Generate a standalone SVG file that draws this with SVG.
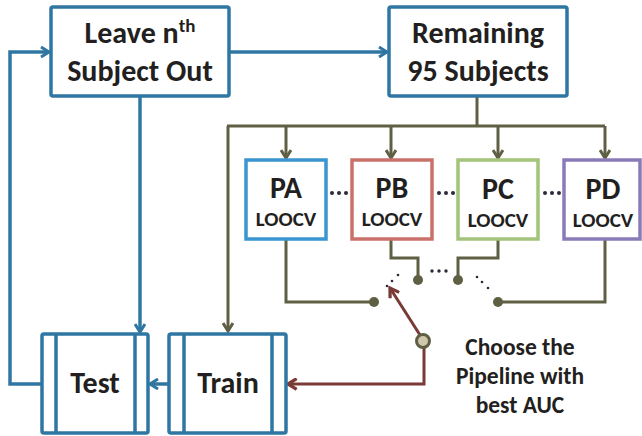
<svg xmlns="http://www.w3.org/2000/svg" width="642" height="436" viewBox="0 0 642 436">
  <defs>
    <style>
      text { font-family: Carlito, Lato, "Open Sans", sans-serif; font-weight: bold; fill: #231f20; text-anchor: middle; }
      .big { font-size: 30px; }
      .pipe { font-size: 30px; }
      .sub { font-size: 21px; }
      .note { font-size: 23.5px; }
      .blue { stroke: #2f77a2; stroke-width: 3.5; fill: none; }
      .olive { stroke: #5f5f44; stroke-width: 3; fill: none; }
      .red { stroke: #7a3a35; stroke-width: 3; fill: none; }
      .box { fill: #fff; stroke: #2f77a2; stroke-width: 3.5; }
      .pbox { fill: #fff; stroke-width: 3.5; }
      .dot { fill: #5f5f44; }
      .tiny { fill: #2a2a3a; }
    </style>
    <marker id="ab" viewBox="0 0 12 12" refX="10" refY="6" markerWidth="12" markerHeight="12" markerUnits="userSpaceOnUse" orient="auto">
      <path d="M2,1 L10,6 L2,11" fill="none" stroke="#2f77a2" stroke-width="3"/>
    </marker>
    <marker id="ao" viewBox="0 0 12 12" refX="10" refY="6" markerWidth="12" markerHeight="12" markerUnits="userSpaceOnUse" orient="auto">
      <path d="M2,1 L10,6 L2,11" fill="none" stroke="#5f5f44" stroke-width="3"/>
    </marker>
    <marker id="ar" viewBox="0 0 12 12" refX="10" refY="6" markerWidth="13" markerHeight="13" markerUnits="userSpaceOnUse" orient="auto">
      <path d="M2,1 L10,6 L2,11" fill="none" stroke="#7a3a35" stroke-width="3"/>
    </marker>
  </defs>

  <g id="connectors">
    <!-- blue flow -->
    <path class="blue" d="M229,52 H387" marker-end="url(#ab)"/>
    <path class="blue" d="M42,384 H10 V52 H49" marker-end="url(#ab)"/>
    <path class="blue" d="M140,96 V332" marker-end="url(#ab)"/>
    <path class="blue" d="M169,384 H150" marker-end="url(#ab)"/>
    <!-- olive distribution -->
    <path class="olive" d="M477,96 V126"/>
    <path class="olive" d="M227,126 H605"/>
    <path class="olive" d="M228,126 V331" marker-end="url(#ao)"/>
    <path class="olive" d="M286,126 V158" marker-end="url(#ao)"/>
    <path class="olive" d="M391,126 V158" marker-end="url(#ao)"/>
    <path class="olive" d="M498,126 V158" marker-end="url(#ao)"/>
    <path class="olive" d="M605,126 V158" marker-end="url(#ao)"/>
    <!-- switch contacts -->
    <path class="olive" d="M286,240 V302 H374"/>
    <path class="olive" d="M391,240 V258 H418 V280"/>
    <path class="olive" d="M498,240 V258 H458 V280"/>
    <path class="olive" d="M605,240 V302 H498"/>
    <circle class="dot" cx="374" cy="302" r="5"/>
    <circle class="dot" cx="418" cy="280" r="5"/>
    <circle class="dot" cx="458" cy="280" r="5"/>
    <circle class="dot" cx="498" cy="302" r="5"/>
    <!-- selector arm -->
    <path class="red" d="M424,348 V384 H288" marker-end="url(#ar)"/>
    <path class="red" d="M420,335 L390,288" marker-end="url(#ar)"/>
    <circle cx="423" cy="341" r="6.5" fill="#cfc8ac" stroke="#5f5f44" stroke-width="3"/>
    <!-- ellipsis dots -->
    <g class="tiny">
      <circle cx="398" cy="275" r="1.3"/>
      <circle cx="392" cy="281" r="1.3"/>
      <circle cx="387" cy="286" r="1.3"/>
      <circle cx="432" cy="271" r="1.7"/>
      <circle cx="439" cy="271" r="1.7"/>
      <circle cx="446" cy="271" r="1.7"/>
      <circle cx="477" cy="277" r="1.3"/>
      <circle cx="482" cy="282" r="1.3"/>
      <circle cx="488" cy="288" r="1.3"/>
      <circle cx="332" cy="193" r="2"/>
      <circle cx="339" cy="193" r="2"/>
      <circle cx="346" cy="193" r="2"/>
      <circle cx="439" cy="193" r="2"/>
      <circle cx="446" cy="193" r="2"/>
      <circle cx="453" cy="193" r="2"/>
      <circle cx="545" cy="193" r="2"/>
      <circle cx="552" cy="193" r="2"/>
      <circle cx="559" cy="193" r="2"/>
    </g>
  </g>

  <g id="leave">
    <rect class="box" x="51" y="7" width="178" height="89" rx="2"/>
    <text class="big" x="140" y="43">Leave n<tspan font-size="19" dy="-11">th</tspan></text>
    <text class="big" x="140" y="81">Subject Out</text>
  </g>

  <g id="remaining">
    <rect class="box" x="389" y="7" width="178" height="89" rx="2"/>
    <text class="big" x="478" y="43">Remaining</text>
    <text class="big" x="478" y="81">95 Subjects</text>
  </g>

  <g id="pa">
    <rect class="pbox" x="246" y="160" width="80" height="79" stroke="#3a95d0"/>
    <text class="pipe" x="286" y="198">PA</text>
    <text class="sub" x="286" y="226">LOOCV</text>
  </g>
  <g id="pb">
    <rect class="pbox" x="352" y="160" width="80" height="79" stroke="#c9716a"/>
    <text class="pipe" x="392" y="198">PB</text>
    <text class="sub" x="392" y="226">LOOCV</text>
  </g>
  <g id="pc">
    <rect class="pbox" x="458" y="160" width="80" height="79" stroke="#a3c47a"/>
    <text class="pipe" x="498" y="199">PC</text>
    <text class="sub" x="498" y="227">LOOCV</text>
  </g>
  <g id="pd">
    <rect class="pbox" x="564" y="160" width="76" height="79" stroke="#8a7bb8"/>
    <text class="pipe" x="603" y="199">PD</text>
    <text class="sub" x="603" y="227">LOOCV</text>
  </g>

  <g id="test">
    <rect class="box" x="42" y="334" width="106" height="99" rx="2"/>
    <path class="blue" d="M56,334 V433 M135,334 V433" stroke-width="3"/>
    <text class="big" x="95" y="393">Test</text>
  </g>

  <g id="train">
    <rect class="box" x="169" y="334" width="117" height="99" rx="2"/>
    <path class="blue" d="M184,334 V433 M272,334 V433" stroke-width="3"/>
    <text class="big" x="228" y="393">Train</text>
  </g>

  <g id="choose">
    <text class="note" x="520" y="355">Choose the</text>
    <text class="note" x="520" y="384">Pipeline with</text>
    <text class="note" x="520" y="413">best AUC</text>
  </g>
</svg>
